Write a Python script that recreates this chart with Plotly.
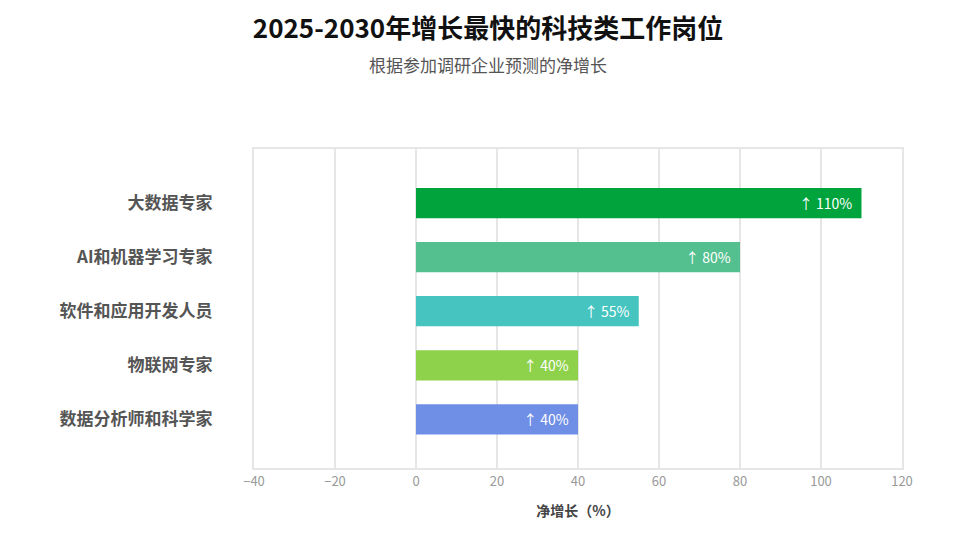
import plotly.graph_objects as go

jobs = ['大数据专家', 'AI和机器学习专家', '软件和应用开发人员', '物联网专家', '数据分析师和科学家']
growth = [110, 80, 55, 40, 40]
colors = ['#00a33c', '#55c08f', '#45c4c0', '#8ed14a', '#6f8ee6']
labels = ['↑ {}%  '.format(v) for v in growth]
tick_text = ['<b>{}</b>'.format(j) for j in jobs]

fig = go.Figure(go.Bar(
    y=jobs, x=growth, orientation='h',
    marker=dict(color=colors, line=dict(width=0)),
    text=labels, textposition='inside', insidetextanchor='end',
    textfont=dict(color='white', size=14),
    width=0.56,
))

fig.update_layout(
    width=960, height=547,
    font=dict(family='Noto Sans CJK SC, Noto Sans, sans-serif'),
    plot_bgcolor='white', paper_bgcolor='white',
    margin=dict(l=246, r=66, t=141, b=87),
    title=dict(
        text='<b>2025-2030年增长最快的科技类工作岗位</b>'
             '<br><span style="font-size:17px;color:#555">根据参加调研企业预测的净增长</span>',
        x=0.5, xanchor='center', y=0.945, yanchor='top',
        font=dict(size=26, color='#111'),
    ),
    showlegend=False,
)
fig.update_xaxes(
    range=[-40, 120], dtick=20, showgrid=True, gridcolor='#e6e6e6', gridwidth=2,
    zeroline=False, tickfont=dict(size=13, color='#999'),
    title=dict(text='<b>净增长（%）</b>', font=dict(size=14, color='#444'), standoff=18),
    showline=True, linecolor='#e6e6e6', linewidth=2, mirror=True, ticks='',
)
fig.update_yaxes(
    range=[4.9, -1.0], tickvals=jobs, ticktext=tick_text,
    tickfont=dict(size=17, color='#555'),
    showline=True, linecolor='#e6e6e6', linewidth=2, mirror=True,
    ticklabelstandoff=36, ticks='',
)

fig.write_html('out.html')
